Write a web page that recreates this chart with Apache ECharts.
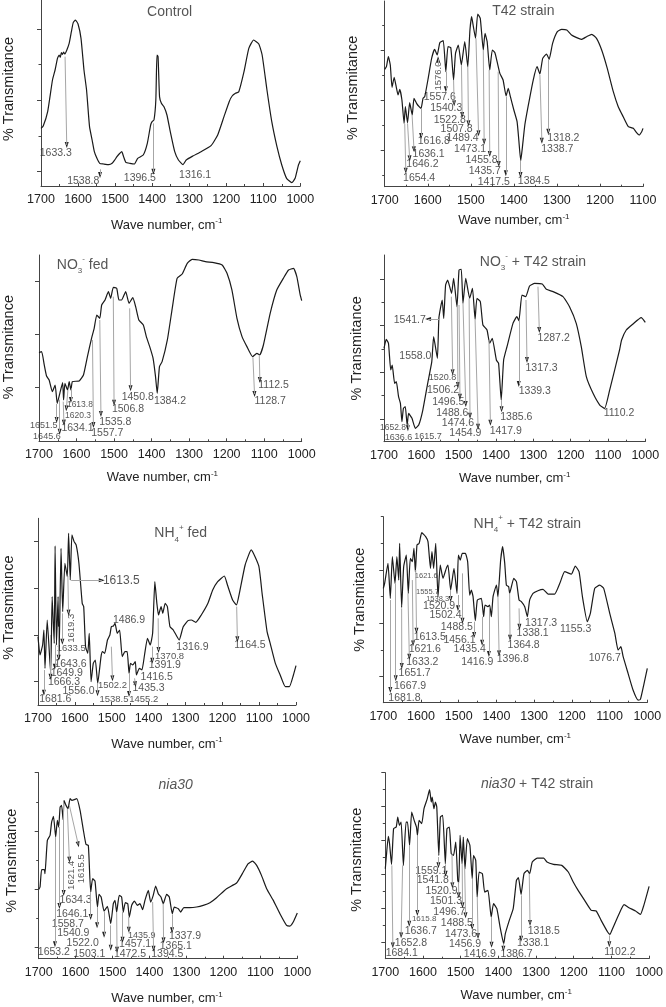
<!DOCTYPE html>
<html><head><meta charset="utf-8">
<style>html,body{margin:0;padding:0;background:#fff}#c{width:666px;height:1007px}</style>
<script src="https://cdn.jsdelivr.net/npm/echarts@6/dist/echarts.min.js"></script></head>
<body><div id="c"></div>
<script>
// Relative transmittance values (arbitrary units, axis carries no numbers).
const controlWave=[1700,1694,1682,1669,1662,1655.5,1651,1648,1645,1642,1639,1636,1631,1624,1618,1613,1607,1600,1592,1584,1577,1569,1562,1556,1549,1541.5,1531,1517,1508,1501,1495,1489,1482,1477,1471,1460,1448,1439,1424,1413,1404,1400,1395,1390,1387,1384,1380,1375,1368,1360,1351,1339,1329,1316.5,1308,1290,1268,1241,1223,1206,1192,1184,1175,1166,1152,1139,1126,1112,1103,1090,1077,1063,1050,1037,1023,1014,1005,1000];
const controlT=[173,180,223,318,348,383,393,386,400,395,402,396,406,428,463,490,498,486,443,348,288,178,138,103,83,68,66,64,68,78,88,96,103,88,71,68,66,83,93,128,183,193,198,258,393,388,268,248,238,213,163,103,78,64,78,90,103,121,153,208,253,270,278,283,343,413,438,426,393,288,193,118,63,23,10,23,63,76];
const controlNotes=[["1633.3",1660,100,1635,388,1630.5,123],["1538.8",1586,16,1540.6,50,1540.6,33],["1396.5",1433,25,1396.5,188,1396.5,43],["1316.1",1284,33]];

const t42Wave=[1700,1696,1691.5,1687,1683,1678,1673,1669,1665,1660,1655,1652,1647,1642,1636,1632,1626,1620,1615.5,1611,1607,1599,1591,1584,1578,1572,1564,1558,1553,1546.5,1540,1535.5,1529,1522,1514,1507,1502,1498,1494,1489,1484,1478,1471,1467,1462,1456,1450,1444,1438,1432.5,1425,1418,1413,1408,1400,1392.5,1388.5,1384,1380,1374.5,1367,1355,1346,1339.5,1333,1324,1318,1310,1299,1289,1277,1266,1254,1243,1231,1219,1208,1196,1183,1169,1157.5,1146,1134,1122.5,1115,1109,1103,1100];
const t42T=[352,360,390,365,298,328,298,275,292,260,190,240,192,252,215,265,250,240,235,265,270,325,385,412,395,432,438,345,420,417,320,400,425,365,435,360,470,510,480,445,518,505,410,460,435,350,410,402,370,340,320,272,295,270,230,195,140,78,120,185,240,320,360,338,385,398,382,430,465,472,470,455,447,442,450,457,445,410,355,285,240,210,180,175,162,155,165,175];
const t42Notes=[["1576.0",1576,332,1576,363,1576,382,9.5,90],["1557.6",1572,270,1558,345,1558,292],["1540.3",1557,235,1540,320,1538.7,250],["1522.8",1549,200,1521.7,365,1520,215],["1507.8",1533,172,1507,360,1505.4,190],["1489.4",1519,145,1488,445,1482,160],["1473.1",1501.6,113,1471,410,1469,135],["1455.8",1475,79,1457.4,350,1456,98],["1435.7",1467.5,48,1436.4,345,1435,68],["1417.5",1446.5,15,1418.6,270,1418.6,40],["1384.5",1353.5,18,1384.5,78,1384.5,35],["1318.2",1285,145,1320,382,1320,165],["1338.7",1299,112,1339.5,335,1335,138],["1616.8",1586,137,1615.5,235,1615.5,152],["1636.1",1598,98,1636.4,215,1632,112],["1646.2",1612.4,67,1647,190,1642,85],["1654.4",1620,27,1653.5,188,1651,48]];

const no3Wave=[1700,1693,1686,1680,1673,1664.5,1657,1651.5,1644.5,1637,1634.5,1631,1624,1619.5,1615,1611,1593,1581.5,1571,1560,1553,1546,1538,1533,1524,1515,1509,1502,1493,1487,1480,1469,1460,1450,1442.5,1434,1422,1414,1405,1396,1389.5,1385,1379,1372,1358,1345,1332,1318.5,1305,1292,1274,1256.5,1234.5,1212,1199,1186,1172.5,1159,1146,1131,1119.5,1112,1102,1084,1066.5,1049,1035,1022,1013,1004,1000];
const no3T=[266,269,229,196,184,149,169,114,144,176,124,174,154,179,154,179,181,199,254,309,339,379,369,409,424,449,429,462,459,424,424,449,414,431,404,364,349,314,284,249,194,144,224,239,304,399,489,502,534,546,544,539,536,529,504,454,369,314,284,254,264,259,289,384,454,489,514,519,494,439,422];
const no3Notes=[["1651.5",1687.6,46,1653,112,1653,64,9],["1645.6",1679,14,1645,125,1645,29,9],["1634.1",1597.5,39,1635.4,119,1633.6,56],["1620.3",1596,78,1623,154,1627,99,8.5],["1613.8",1591,109,1615,159,1615,124,8.5],["1557.7",1518,24,1557.5,304,1555,49],["1535.8",1497,59,1538,364,1535,82],["1506.8",1463,97,1502,434,1500,116],["1450.8",1437,134,1458.4,399,1456,159],["1384.2",1351,120],["1112.5",1075,169,1113,259,1111.5,184],["1128.7",1084,120,1130,252,1125.7,142]];

const no3t42Wave=[1700,1694,1688,1682,1678,1671.5,1667,1661,1656,1652,1648,1643,1638,1634,1625,1616,1607,1596,1583,1572,1567,1557,1553,1548,1544,1540,1535,1529.5,1519,1513.5,1504.5,1499,1493,1488.5,1481,1470.5,1463,1456,1451,1442,1435,1424,1417,1410,1399,1393,1386,1379.5,1370.5,1354.5,1344,1338.5,1330.5,1320.5,1310,1296.5,1276,1265,1247,1220.5,1203,1185,1171.5,1158,1140,1122,1109,1095.5,1069,1063.5,1051,1033,1011,1000];
const no3t42T=[280,307,295,215,230,175,180,135,115,60,100,105,50,85,70,40,50,95,175,240,315,250,370,405,425,370,470,485,445,490,405,515,517,415,490,430,460,367,430,420,350,335,295,310,245,235,125,245,285,355,375,363,440,435,467,475,473,457,450,435,405,355,285,195,145,110,100,155,275,305,335,353,372,358];
const no3t42Notes=[["1541.7",1631,365,1552.7,368,1582,368],["1558.0",1616,258],["1520.8",1543.5,193,1519.6,435,1516,208,9],["1506.2",1541.7,155,1503.6,405,1502,170],["1496.5",1528,119,1499,410,1496.5,135],["1488.6",1517,87,1488.4,415,1481,113],["1474.6",1502,55,1472,430,1469.6,78],["1454.9",1482,25,1456,365,1448,45],["1417.9",1374,32,1418.8,305,1415,57],["1385.6",1345.5,75,1385,125,1385,97],["1339.3",1296,152,1339,365,1339,173],["1317.3",1278,220,1319.6,425,1317,245],["1287.2",1245.5,310,1287.5,465,1284,335],["1110.2",1070.5,85],["1652.8",1676,42,null,null,null,null,8.5],["1636.6",1661,13,1636,55,1636,40,9],["1615.7",1582,15,null,null,null,null,9]];

const nh4Wave=[1700,1694.6,1687.5,1684,1681,1675,1665.6,1661.6,1656,1653.6,1650,1645.5,1643,1637.5,1633,1627,1620.5,1617,1612.5,1608,1602,1596.5,1589,1580,1576,1571,1565,1561,1556,1550,1544.5,1538,1529,1525,1519,1511.5,1505,1501,1495.5,1491,1485,1478.5,1471.5,1464,1458,1453,1449,1443,1436,1433,1425,1418,1411,1403,1395.5,1389,1383,1377.5,1373,1366,1361.5,1355,1349,1342,1333,1317,1306,1293,1284,1272,1257,1239,1226,1212.5,1194.5,1186,1172,1161.5,1154.5,1138,1121.5,1101,1092,1078.5,1070,1056,1043,1029,1018,1007,1000];
const nh4T=[205,150,180,225,110,255,95,325,185,477,180,325,137,470,280,425,385,515,375,510,490,480,425,305,295,175,155,215,70,125,135,65,145,160,155,195,210,235,237,245,215,225,145,160,160,95,125,120,130,90,110,105,150,200,180,215,370,305,270,295,275,305,295,235,225,195,235,253,255,248,270,305,345,370,387,360,315,300,330,420,465,417,335,220,185,125,90,55,55,90,118];
const nh4Notes=[["1613.5",1474,374,1610,374,1527,374,12],["1619.3",1610,230,1619,387,1617,277,9.5,90],["1633.5",1610,170,1634,275,1634,190,9.5],["1643.6",1612,122,1644,235,1644,142],["1649.9",1622,95,1654.5,180,1654.5,115],["1666.3",1629.5,69,1666,210,1666,85],["1681.6",1653,18,1684,105,1684,37],["1556.0",1590,43],["1538.5",1494,17,1538.4,65,1538.4,35,9.5],["1502.2",1498,60,1501,175,1498,80,9.5],["1486.9",1453,255],["1455.2",1413,17,1453,95,1453,33,9.5],["1435.3",1400,50,1438,80,1436,62],["1416.5",1378,85],["1391.9",1356,119,1390,175,1390,133],["1370.8",1343,146,1374,260,1373,165,9.5],["1316.9",1281,174],["1164.5",1125,181,1161,295,1159,197]];

const nh4t42Wave=[1700,1696.5,1687.6,1681.4,1676,1669,1664,1659,1656.7,1651.4,1646,1639,1633.7,1628.4,1623,1618.7,1615,1610.7,1605,1598,1587.7,1581.5,1575,1571,1566.5,1561,1555,1549,1541.7,1533,1528.5,1521.4,1512.6,1504.6,1501,1496,1490.5,1482.5,1476.3,1471,1466.6,1462,1456,1450.7,1440,1434,1430.3,1422.4,1418,1413.5,1409,1400,1396,1388.8,1383.5,1378,1373.7,1367.6,1365,1354,1347,1340,1334,1325,1318,1312,1303,1290,1276.5,1263,1245.5,1232,1219,1201,1191,1181,1172,1159,1151,1139.4,1126,1115.6,1099.6,1086,1077.5,1070,1064,1051,1037.8,1024.5,1018.3,1009.5,1000];
const nh4t42T=[343,358,418,313,438,358,438,368,478,286,408,443,328,433,423,463,393,473,478,510,498,483,403,453,403,478,318,413,373,403,413,338,403,328,443,428,448,448,423,323,338,318,246,308,313,258,293,288,293,258,318,353,318,428,468,418,353,348,328,373,363,308,303,288,258,308,328,336,340,326,326,358,393,386,410,393,318,243,268,343,353,343,268,208,158,168,138,88,38,8,10,53,103];
const nh4t42Notes=[["1621.6",1586,380,null,null,null,null,7.5],["1555.7",1583,331,null,null,null,null,7.5],["1538.3",1556,312,null,null,null,null,7.5],["1520.9",1552,290,1521.4,338,1521.4,311],["1502.4",1535,262,1502,323,1502,283],["1488.5",1505,228,1490,388,1490,246],["1456.1",1498,188,1459.5,243,1459,203],["1435.4",1471,161,1438,258,1438,180],["1416.9",1451,123,1419.7,288,1420,146],["1396.8",1356.6,130,1396,318,1393,148],["1364.8",1328,173,1365,328,1364,195],["1338.1",1304,209,1340,283,1339,228],["1317.3",1281.5,239],["1155.3",1190,220],["1076.7",1113,135],["1613.5",1577,196,1614,398,1612,216],["1621.6",1590,161,1623,368,1621,178],["1633.2",1596.5,121,1634.6,328,1631,138],["1651.7",1617,88,1651.4,283,1651,110],["1667.9",1629,50,1668,358,1667,73],["1681.8",1644,14,1681.4,308,1681.4,38]];

const niaWave=[1700,1696.4,1692,1684.7,1683,1676.6,1669.3,1665,1660,1654,1649.5,1646,1642,1638,1634,1631.5,1626,1620.7,1615,1610,1597,1588,1579,1572,1565.6,1559.3,1554,1547.6,1541,1536.8,1531,1523,1514,1505,1498,1493.5,1489,1482,1475.5,1471,1465.6,1459,1454.7,1448.4,1441,1433,1426,1418.7,1412.4,1403.3,1397,1390,1383.5,1376.3,1369,1362.8,1353.7,1346.5,1338.4,1333,1322,1316,1307,1290.6,1272.6,1254.6,1236.5,1218.5,1191.4,1164.4,1146.3,1133,1121,1110,1097,1083,1065,1047,1029,1020,1011,1000];
const niaT=[208,215,267,267,255,355,370,410,427,365,415,395,455,460,417,475,460,450,480,475,480,445,385,343,340,200,240,233,155,193,185,143,157,105,165,175,140,190,185,140,168,165,125,160,173,160,165,147,175,205,170,190,218,195,185,165,193,185,135,155,150,140,153,153,155,160,168,183,210,227,260,285,293,280,250,210,175,135,100,98,110,137];
const niaNotes=[["1615.5",1584,270,1617,460,1593,343,9.5,90],["1621.4",1611,250,1622.5,450,1617,297,9.5,90],["1634.3",1600,177,1632.4,470,1632.4,197],["1646.1",1609,133,1644,395,1644,158],["1653.2",1659,20,1656,365,1656,43],["1558.7",1621,105,1559.3,200,1559.3,125],["1540.9",1606.4,77,1542,155,1542,100],["1522.0",1581,47,1523,140,1523,72],["1503.1",1563,15,1505,100,1505,33],["1472.5",1453,15,1489,140,1488,27],["1457.1",1439,43,1473,140,1473,57],["1435.9",1421,70,1456.5,125,1456,87,9],["1394.5",1352,13,1391.6,170,1389,30],["1365.1",1329,39,1363,165,1362,55],["1337.9",1304,68,1339,133,1339,85]];

const niat42Wave=[1700,1697.4,1692,1688.7,1683.5,1678,1671,1667,1662.6,1658,1652,1645,1641,1635.6,1630,1623.4,1617.3,1614.7,1610.4,1603.4,1597.3,1588.6,1582.5,1578,1575.5,1571,1567,1563.4,1558,1553.8,1547.7,1540.7,1536.4,1530,1525,1519,1513,1507.7,1505,1501.6,1496.3,1493,1488.5,1482.4,1475.5,1469.4,1466,1460,1456.3,1451,1442.4,1436.3,1427.6,1419,1412.8,1404,1395.4,1385.8,1381.5,1371,1360.6,1352,1346.7,1339.7,1332,1323,1317,1310,1297,1279.6,1271,1253.5,1231.8,1214.4,1201.3,1188.3,1171,1153.4,1140.4,1127.3,1110,1104,1097,1079.5,1066.4,1053.4,1036,1023,1014,1000];
const niat42T=[270,305,367,345,283,390,395,425,400,410,280,410,410,340,440,415,395,370,415,405,450,480,507,470,485,450,470,455,310,425,430,285,390,395,315,310,350,235,227,370,285,365,270,360,340,240,310,295,185,260,255,200,205,125,165,150,95,45,75,115,150,235,243,193,255,265,255,290,302,302,290,283,280,260,230,205,175,145,143,115,80,73,90,135,162,153,143,133,160,217];
const niat42Notes=[["1559.1",1578,262,1559,305,1559,280],["1541.8",1574,235,1540,283,1540,255],["1520.9",1551,204,1523,315,1522,220],["1501.3",1539,174,1505.7,230,1505,190],["1496.7",1530,140,1496,285,1495,160],["1488.5",1510,107,1489.4,270,1487,130],["1473.6",1499,75,1469.4,240,1469.4,95],["1456.9",1488.5,45,1456,185,1454,68],["1416.9",1449,15,1418,125,1418,42],["1386.7",1352,15,1386.7,45,1386.7,30],["1338.1",1308,47,1339.7,190,1339.7,60],["1318.5",1279.5,84,1318,255,1316,107],["1102.2",1077.7,21,1105.6,70,1105.6,43],["1615.8",1597,121,1615,370,1615,137,8],["1636.7",1606,83,1636.5,340,1636.5,105],["1652.8",1632,48,1654,280,1658,70],["1684.1",1656.5,18,1682.6,280,1680,40]];

const panels=[
 {title:'Control',tx:1352.7,ty:521,wave:controlWave,t:controlT,notes:controlNotes,xMin:1000,left:38.3,right:300.3,top:0,bottom:186,h:558,major:[43,257,471],minor:[150,365],yGap:25,yShift:4,xGap:31,xShift:4},
 {title:'T42 strain',tx:1378,ty:528,wave:t42Wave,t:t42T,notes:t42Notes,xMin:1100,left:384.7,right:643,top:1,bottom:186.7,h:557,major:[109,259,409],minor:[35,183,333,485],yGap:24,yShift:6,xGap:26,xShift:0},
 {title:'NO{sub|3}{sup|-} fed',tx:1584,ty:529,wave:no3Wave,t:no3T,notes:no3Notes,xMin:1000,left:38,right:301.7,top:255,bottom:441.3,h:559,major:[162,321,480],minor:[],yGap:23,yShift:1,xGap:28,xShift:8},
 {title:'NO{sub|3}{sup|-} + T42 strain',tx:1301,ty:540,wave:no3t42Wave,t:no3t42T,notes:no3t42Notes,xMin:1000,left:384,right:645.3,top:255,bottom:441.7,h:560,major:[68,208,348,488],minor:[138,278,418],yGap:20,yShift:0,xGap:29,xShift:0},
 {title:'NH{sub|4}{sup|+} fed',tx:1313,ty:515,wave:nh4Wave,t:nh4T,notes:nh4Notes,xMin:1000,left:34.7,right:296,top:518.3,bottom:705,h:560,major:[70,210,350,490],minor:[],yGap:22,yShift:4,xGap:31,xShift:0},
 {title:'NH{sub|4}{sup|+} + T42 strain',tx:1318,ty:536,wave:nh4t42Wave,t:nh4t42T,notes:nh4t42Notes,xMin:1000,left:383.3,right:647.3,top:516.7,bottom:702.7,h:558,major:[78,238,398],minor:[158,318,478,558],yGap:16,yShift:10,xGap:29,xShift:0},
 {title:'{it|nia30}',tx:1329.4,ty:520,wave:niaWave,t:niaT,notes:niaNotes,xMin:1000,left:38.7,right:297.3,top:772.7,bottom:958.7,h:558,major:[33,207,383,558],minor:[120,295,470],yGap:19,yShift:5,xGap:32,xShift:1},
 {title:'{it|nia30} + T42 strain',tx:1297,ty:525,wave:niat42Wave,t:niat42T,notes:niat42Notes,xMin:1000,left:385.3,right:653.3,top:772.7,bottom:958.7,h:558,major:[50,152,253,355,457,558],minor:[101,202,304,406,507],yGap:21,yShift:6,xGap:29,xShift:1}
];
const INK='#1a1a1a', TEXT='#2a2a2a', AXIS='#444', FONT='"Liberation Sans",Arial,sans-serif';
const titleRich={sub:{fontSize:8,fontFamily:FONT,color:TEXT,verticalAlign:'bottom',lineHeight:20},sup:{fontSize:8,fontFamily:FONT,color:TEXT,verticalAlign:'top',lineHeight:20},it:{fontSize:14,fontFamily:FONT,fontStyle:'italic',color:TEXT,lineHeight:20}};
const option={animation:false,backgroundColor:'#fff',grid:[],xAxis:[],yAxis:[],series:[]};
panels.forEach((p,i)=>{
  option.grid.push({left:p.left,top:p.top,width:p.right-p.left,height:p.bottom-p.top,containLabel:false});
  option.xAxis.push({type:'value',gridIndex:i,inverse:true,min:p.xMin,max:1700,interval:100,
    axisLine:{onZero:false,lineStyle:{color:AXIS,width:1}},
    axisTick:{inside:true,length:3,lineStyle:{color:AXIS}},
    minorTick:{show:true,splitNumber:2,length:2,lineStyle:{color:AXIS}},
    axisLabel:{color:'#222',fontSize:12.5,fontFamily:FONT,margin:7,hideOverlap:false,showMinLabel:true,showMaxLabel:true,formatter:v=>String(v)},
    splitLine:{show:false},
    name:'{a|Wave number, cm}{b|-1}',nameLocation:'middle',nameGap:p.xGap,
    nameTextStyle:{padding:[0,2*p.xShift,0,0],rich:{a:{fontSize:13,fontFamily:FONT,color:'#222',lineHeight:16},b:{fontSize:8,fontFamily:FONT,color:'#222',verticalAlign:'top',lineHeight:16}}}});
  option.yAxis.push({type:'value',gridIndex:i,min:0,max:p.h,position:'left',
    axisLine:{show:true,onZero:false,lineStyle:{color:AXIS,width:1}},
    axisTick:{show:true,length:4,customValues:p.major,lineStyle:{color:AXIS}},
    axisLabel:{show:false},splitLine:{show:false},
    name:'% Transmitance',nameLocation:'middle',nameRotate:90,nameGap:p.yGap,
    nameTextStyle:{fontSize:14.5,fontFamily:FONT,color:'#222',padding:[0,0,0,2*p.yShift]}});
  option.yAxis.push({type:'value',gridIndex:i,min:0,max:p.h,position:'left',
    axisLine:{show:false},
    axisTick:{show:p.minor.length>0,length:2.5,customValues:p.minor,lineStyle:{color:AXIS}},
    axisLabel:{show:false},splitLine:{show:false}});
  const lines=[],heads=[];
  const s=(p.right-p.left)*3/(1700-p.xMin);
  const labels=[{value:[p.tx,p.ty],label:{formatter:p.title,fontSize:14,color:TEXT,rich:titleRich,lineHeight:20}}];
  p.notes.forEach(n=>{
    const [text,lx,ly,x1,y1,x2,y2,size,rot]=n;
    labels.push({value:[lx,ly],label:{formatter:text,fontSize:size||10.5,rotate:rot||0,color:TEXT}});
    if(x1==null)return;
    lines.push([{coord:[x1,y1]},{coord:[x2,y2]}]);
    heads.push({value:[x2,y2],symbolRotate:Math.atan2((x2-x1)*s,y2-y1)*180/Math.PI});
  });
  option.series.push({type:'line',xAxisIndex:i,yAxisIndex:2*i,data:p.wave.map((w,k)=>[w,p.t[k]]),
    showSymbol:false,smooth:0.15,clip:false,lineStyle:{color:INK,width:1.2},silent:true,
    markLine:{silent:true,animation:false,symbol:['none','none'],label:{show:false},lineStyle:{color:'#a6a6a6',width:1,type:'solid'},data:lines}});
  option.series.push({type:'scatter',xAxisIndex:i,yAxisIndex:2*i,symbol:'triangle',symbolSize:[4,6],silent:true,clip:false,data:heads,itemStyle:{color:'#222',opacity:1}});
  option.series.push({type:'scatter',xAxisIndex:i,yAxisIndex:2*i,symbolSize:0,silent:true,clip:false,data:labels,
    label:{show:true,position:'inside',fontFamily:FONT,align:'center',verticalAlign:'middle'}});
});
const chart=echarts.init(document.getElementById('c'),null,{renderer:'canvas',width:666,height:1007});
chart.setOption(option);
</script></body></html>
